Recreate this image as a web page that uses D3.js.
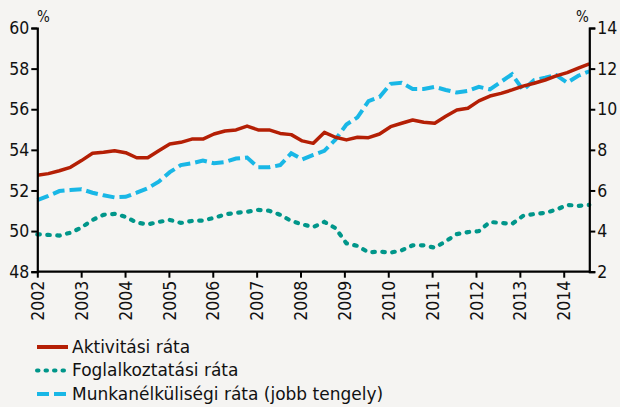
<!DOCTYPE html>
<html>
<head>
<meta charset="utf-8">
<script src="https://cdn.jsdelivr.net/npm/d3@7"></script>
<style>
  body { margin: 0; background: #f5f4f2; }
  svg { display: block; font-family: "DejaVu Sans Condensed", "DejaVu Sans", sans-serif; }
</style>
</head>
<body>
<svg width="620" height="407"></svg>
<script>
// quarterly series, 2002 Q1 .. 2014 Q3
var aktivitasi = [52.75, 52.83, 52.97, 53.14, 53.47, 53.83, 53.88, 53.96, 53.86, 53.61,
  53.61, 53.96, 54.29, 54.37, 54.53, 54.53, 54.78, 54.93, 54.98, 55.17,
  54.98, 54.98, 54.81, 54.75, 54.44, 54.32, 54.86, 54.62, 54.49, 54.62,
  54.6, 54.78, 55.14, 55.31, 55.47, 55.36, 55.31, 55.65, 55.96, 56.05,
  56.41, 56.65, 56.78, 56.95, 57.14, 57.28, 57.44, 57.64, 57.8, 58.02, 58.23];
var foglalkoztatasi = [49.84, 49.81, 49.78, 49.92, 50.17, 50.55, 50.8, 50.85, 50.7, 50.42,
  50.33, 50.45, 50.55, 50.4, 50.5, 50.52, 50.65, 50.82, 50.9, 50.95,
  51.04, 51.0, 50.8, 50.5, 50.33, 50.2, 50.45, 50.15, 49.4, 49.27,
  48.95, 48.99, 48.94, 49.05, 49.3, 49.3, 49.18, 49.5, 49.85, 49.95,
  50.0, 50.45, 50.4, 50.35, 50.75, 50.84, 50.9, 51.05, 51.29, 51.24, 51.29];
var munkanelkuli = [5.53, 5.73, 5.97, 6.02, 6.06, 5.89, 5.76, 5.66, 5.69, 5.89,
  6.11, 6.43, 6.9, 7.25, 7.34, 7.47, 7.34, 7.4, 7.57, 7.62,
  7.14, 7.14, 7.25, 7.83, 7.53, 7.75, 7.95, 8.5, 9.25, 9.6,
  10.4, 10.6, 11.25, 11.3, 11.0, 11.0, 11.1, 10.95, 10.82, 10.9,
  11.1, 10.98, 11.35, 11.72, 10.95, 11.44, 11.55, 11.68, 11.31, 11.65, 11.87];

var years = d3.range(2002, 2015);
var leftTicks = [48, 50, 52, 54, 56, 58, 60];
var rightTicks = [2, 4, 6, 8, 10, 12, 14];
var legendNames = ["Aktivitási ráta", "Foglalkoztatási ráta", "Munkanélküliségi ráta (jobb tengely)"];

var svg = d3.select("svg");
var pLeft = 37.3, pRight = 589.3, pTop = 28, pBottom = 271.7;
var font = "'DejaVu Sans Condensed', 'DejaVu Sans', sans-serif";

// last observation sits at the right axis
var x = d3.scaleLinear().domain([2002, 2014.583]).range([pLeft, pRight]);
var yL = d3.scaleLinear().domain([48, 60]).range([pBottom, pTop]);
var yR = d3.scaleLinear().domain([2, 14]).range([pBottom, pTop]);

function tpos(i, n){ return 2002 + i * (2014.583 - 2002) / (n - 1); }

var lineL = d3.line().x(function(d, i){ return x(tpos(i, aktivitasi.length)); }).y(function(d){ return yL(d); });
var lineR = d3.line().x(function(d, i){ return x(tpos(i, munkanelkuli.length)); }).y(function(d){ return yR(d); });

var colors = ["#b41f05", "#00968a", "#19b7e6"];

svg.append("path").datum(foglalkoztatasi).attr("d", lineL)
  .attr("fill", "none").attr("stroke", colors[1]).attr("stroke-width", 4.2)
  .attr("stroke-linecap", "round").attr("stroke-dasharray", "2.5 7.5");
svg.append("path").datum(munkanelkuli).attr("d", lineR)
  .attr("fill", "none").attr("stroke", colors[2]).attr("stroke-width", 4)
  .attr("stroke-dasharray", "12 5");
svg.append("path").datum(aktivitasi).attr("d", lineL)
  .attr("fill", "none").attr("stroke", colors[0]).attr("stroke-width", 3.5)
  .attr("stroke-linejoin", "round");

// axes
var axL = svg.append("g").attr("transform", "translate(" + pLeft + ",0)")
  .call(d3.axisLeft(yL).tickValues(leftTicks).tickSize(6).tickPadding(2));
var axR = svg.append("g").attr("transform", "translate(" + pRight + ",0)")
  .call(d3.axisRight(yR).tickValues(rightTicks).tickSize(6).tickPadding(2));
var axB = svg.append("g").attr("transform", "translate(0," + pBottom + ")")
  .call(d3.axisBottom(x).tickValues(years).tickFormat(d3.format("d")).tickSize(6).tickPadding(4));

[axL, axR, axB].forEach(function(g){
  g.select(".domain").attr("stroke", "#000").attr("stroke-width", 2.2);
  g.selectAll(".tick line").attr("stroke", "#000").attr("stroke-width", 2);
  g.selectAll("text").attr("fill", "#111").style("font-size", "17.5px").style("font-family", font);
});
axB.select(".domain").attr("d", "M" + pLeft + ",0H" + pRight);
axB.selectAll(".tick text")
  .attr("transform", "rotate(-90)")
  .attr("text-anchor", "end")
  .attr("x", -9).attr("y", 0).attr("dy", "0.35em");

svg.append("text").attr("x", 37).attr("y", 22).text("%")
  .style("font-size", "15px").attr("fill", "#111");
svg.append("text").attr("x", 576).attr("y", 22).text("%")
  .style("font-size", "15px").attr("fill", "#111");

// legend
var leg = svg.append("g").attr("transform", "translate(37,347)");
var rows = leg.selectAll("g").data(legendNames).enter().append("g")
  .attr("transform", function(d, i){ return "translate(0," + (i * 23.5) + ")"; });
rows.append("line").attr("x1", 0).attr("x2", 31).attr("y1", 0).attr("y2", 0)
  .attr("stroke", function(d, i){ return colors[i]; })
  .attr("stroke-width", 4)
  .attr("stroke-linecap", function(d, i){ return i == 1 ? "round" : "butt"; })
  .attr("stroke-dasharray", function(d, i){ return i == 1 ? "1.5 7" : (i == 2 ? "12 5" : null); });
rows.append("text").attr("x", 35).attr("y", 0).attr("dy", "0.35em")
  .style("font-size", "17px").style("font-family", "'DejaVu Sans', sans-serif").attr("fill", "#111")
  .text(function(d){ return d; });
</script>
</body>
</html>
